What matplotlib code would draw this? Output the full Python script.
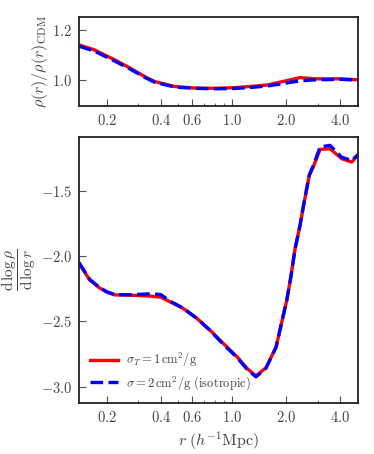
import numpy as np
import matplotlib
matplotlib.use("Agg")
import matplotlib.pyplot as plt
from matplotlib.ticker import FixedLocator, FixedFormatter, NullFormatter

plt.rcParams['mathtext.fontset'] = 'cm'
plt.rcParams['font.family'] = 'serif'
plt.rcParams['font.serif'] = ['cmr10', 'DejaVu Serif']
plt.rcParams['axes.formatter.use_mathtext'] = True

# ---- data ----
r_top = [0.14, 0.171, 0.222, 0.269, 0.326, 0.371, 0.48, 0.62, 0.8, 1.0, 1.2, 1.57, 2.0, 2.4, 2.9, 4.0, 5.05]
ratio_red = [1.14, 1.12, 1.08, 1.048, 1.013, 0.993, 0.973, 0.967, 0.966, 0.968, 0.972, 0.979, 0.996, 1.009, 1.004, 1.004, 1.0]
ratio_blue = [1.135, 1.115, 1.075, 1.044, 1.01, 0.99, 0.971, 0.966, 0.964, 0.965, 0.968, 0.975, 0.987, 0.996, 1.0, 1.002, 0.999]

r_bot = [0.14, 0.161, 0.183, 0.2, 0.222, 0.269, 0.348, 0.4, 0.45, 0.532, 0.637, 0.752, 0.889,
         1.065, 1.211, 1.36, 1.546, 1.759, 2.02, 2.13, 2.245, 2.394, 2.50, 2.70, 2.84, 3.10,
         3.52, 4.09, 4.66, 5.05]
slope_red = [-2.055, -2.185, -2.246, -2.276, -2.298, -2.30, -2.307, -2.315, -2.35, -2.40, -2.477,
             -2.566, -2.666, -2.77, -2.859, -2.918, -2.855, -2.70, -2.34, -2.16, -1.95, -1.77,
             -1.625, -1.383, -1.32, -1.185, -1.18, -1.256, -1.282, -1.225]
slope_blue = [-2.05, -2.18, -2.242, -2.274, -2.296, -2.297, -2.29, -2.295, -2.345, -2.398, -2.478,
              -2.568, -2.672, -2.776, -2.866, -2.925, -2.86, -2.70, -2.34, -2.16, -1.95, -1.77,
              -1.62, -1.38, -1.31, -1.167, -1.154, -1.245, -1.27, -1.225]

xticks = [0.2, 0.4, 0.6, 1.0, 2.0, 4.0]
xtick_labels = ['0.2', '0.4', '0.6', '1.0', '2.0', '4.0']
xminor = [0.3, 0.5, 0.7, 0.8, 0.9, 3.0]
top_yticks = [1.0, 1.2]
top_ylabels = ['1.0', '1.2']
bot_yticks = [-3.0, -2.5, -2.0, -1.5]
bot_ylabels = ['-3.0', '-2.5', '-2.0', '-1.5']

label_red = r'$\sigma_T = 1\,\mathrm{cm}^2/\mathrm{g}$'
label_blue = r'$\sigma = 2\,\mathrm{cm}^2/\mathrm{g}$ (isotropic)'

TXT = '#444444'
DASH = (0, (3.8, 1.6))

fig = plt.figure(figsize=(3.74, 4.54), dpi=100)
ax1 = fig.add_axes([0.211, 0.7665, 0.746, 0.196])
ax2 = fig.add_axes([0.211, 0.1123, 0.746, 0.586])

for ax in (ax1, ax2):
    ax.set_xscale('log')
    ax.set_xlim(0.14, 5.04)
    ax.xaxis.set_major_locator(FixedLocator(xticks))
    ax.xaxis.set_major_formatter(FixedFormatter(['$%s$' % s for s in xtick_labels]))
    ax.xaxis.set_minor_locator(FixedLocator(xminor))
    ax.xaxis.set_minor_formatter(NullFormatter())
    ax.tick_params(which='both', direction='in', top=False, right=False,
                   color='#555555', labelcolor=TXT, labelsize=10.5)
    ax.tick_params(which='major', length=5, width=0.8, pad=5)
    ax.tick_params(which='minor', length=2.5, width=0.6)
    for s in ax.spines.values():
        s.set_linewidth(1.3)
        s.set_color('#222222')

ax1.plot(r_top, ratio_red, color='red', lw=2.4)
ax1.plot(r_top, ratio_blue, color='blue', lw=2.4, ls=DASH)
ax1.set_ylim(0.895, 1.252)
ax1.yaxis.set_major_locator(FixedLocator(top_yticks))
ax1.yaxis.set_major_formatter(FixedFormatter(['$%s$' % s for s in top_ylabels]))
ax1.set_ylabel(r'$\rho(r)/\rho(r)_{\mathrm{CDM}}$', fontsize=11.5, color=TXT, labelpad=1)

ax2.plot(r_bot, slope_red, color='red', lw=2.4, label=label_red)
ax2.plot(r_bot, slope_blue, color='blue', lw=2.4, ls=DASH, label=label_blue)
ax2.set_ylim(-3.125, -1.09)
ax2.yaxis.set_major_locator(FixedLocator(bot_yticks))
ax2.yaxis.set_major_formatter(FixedFormatter(['$%s$' % s for s in bot_ylabels]))
ax2.set_ylabel(r'$\dfrac{\mathrm{d}\,\log\rho}{\mathrm{d}\,\log r}$', fontsize=11, color=TXT,
               labelpad=2)
ax2.set_xlabel(r'$r\;(h^{-1}\mathrm{Mpc})$', fontsize=11.5, color=TXT, labelpad=3)

leg = ax2.legend(loc='lower left', frameon=False, fontsize=9, handlelength=2.2,
                 borderaxespad=0.5, handletextpad=0.7, labelspacing=0.4)
for t in leg.get_texts():
    t.set_color(TXT)

fig.savefig('out.png', dpi=100)
